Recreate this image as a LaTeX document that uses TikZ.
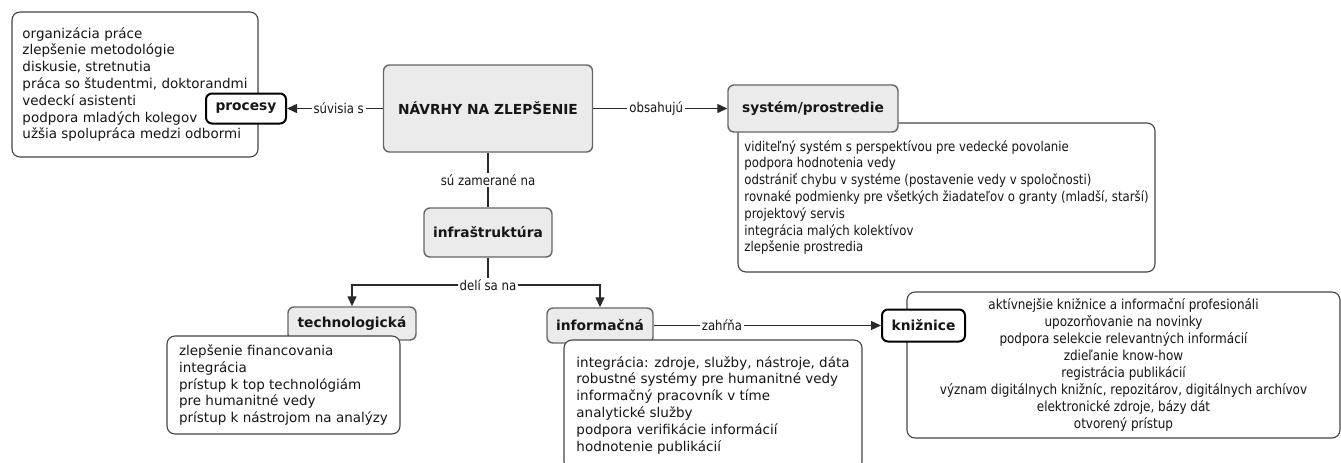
\documentclass[tikz,border=0pt]{standalone}
\usepackage{fontspec}
\setmainfont{DejaVu Sans}
\newfontfamily\narrowfont{DejaVu Sans}[FakeStretch=0.87]
\usetikzlibrary{arrows.meta}

\definecolor{conceptfill}{HTML}{EBEBEB}
\definecolor{conceptline}{HTML}{666666}
\definecolor{noteline}{HTML}{444444}
\definecolor{linkline}{HTML}{2A2A2A}
\definecolor{ink}{HTML}{161616}

\tikzset{
  concept/.style={draw=conceptline, fill=conceptfill, rounded corners=6pt,
    line width=1.4pt, inner sep=0pt, text=ink,
    font=\fontsize{13.8}{16}\selectfont\bfseries},
  keyconcept/.style={draw=black, fill=white, rounded corners=6pt,
    line width=2pt, inner sep=0pt, text=ink,
    font=\fontsize{13.8}{16}\selectfont\bfseries},
  notes/.style={draw=noteline, fill=white, rounded corners=8pt,
    line width=1.1pt, inner sep=0pt, align=left, text=ink,
    font=\fontsize{13.5}{16.8}\selectfont},
  narrownotes/.style={notes, font=\narrowfont\fontsize{13.5}{16.8}\selectfont},
  link/.style={draw=linkline, line width=1.3pt},
  arrow/.style={link, -{Triangle[length=10pt,width=9pt]}},
  linklabel/.style={fill=white, inner sep=2pt, text=ink,
    font=\narrowfont\fontsize{13.5}{16}\selectfont},
}

\begin{document}
\begin{tikzpicture}[x=1pt, y=-1pt]
\useasboundingbox (0,0) rectangle (1341,463);

% processes
\node[notes, minimum width=246pt, minimum height=145pt] (procnotes) at (135,84.5)
  {organizácia práce\\zlepšenie metodológie\\diskusie, stretnutia\\práca so študentmi, doktorandmi\\vedeckí asistenti\\podpora mladých kolegov\\užšia spolupráca medzi odbormi};
\node[keyconcept, minimum width=80pt, minimum height=30pt] (procesy) at (246,108.5) {procesy};

% central concept
\node[concept, minimum width=209pt, minimum height=87pt] (navrhy) at (488,108.5) {NÁVRHY NA ZLEPŠENIE};

% system / environment
\node[narrownotes, minimum width=417pt, minimum height=149pt] (sysnotes) at (946.5,197.5)
  {viditeľný systém s perspektívou pre vedecké povolanie\\podpora hodnotenia vedy\\odstrániť chybu v systéme (postavenie vedy v spoločnosti)\\rovnaké podmienky pre všetkých žiadateľov o granty (mladší, starší)\\projektový servis\\integrácia malých kolektívov\\zlepšenie prostredia};
\node[concept, minimum width=170pt, minimum height=47pt] (system) at (813,108.5) {systém/prostredie};

% infrastructure
\node[concept, minimum width=128pt, minimum height=49pt] (infra) at (488,232.5) {infraštruktúra};
\coordinate (split) at (488,285);

% technological branch
\node[concept, minimum width=128pt, minimum height=33pt] (tech) at (352,323.5) {technologická};
\node[notes, minimum width=233pt, minimum height=98pt] (technotes) at (283.5,385)
  {zlepšenie financovania\\integrácia\\prístup k top technológiám\\pre humanitné vedy\\prístup k nástrojom na analýzy};

% information branch
\node[concept, minimum width=106pt, minimum height=35pt] (info) at (600,325.5) {informačná};
\node[notes, minimum width=298pt, minimum height=130pt] (infonotes) at (713,405)
  {integrácia: zdroje, služby, nástroje, dáta\\robustné systémy pre humanitné vedy\\informačný pracovník v tíme\\analytické služby\\podpora verifikácie informácií\\hodnotenie publikácií};

% libraries
\node[narrownotes, align=center, minimum width=433pt, minimum height=146pt,
      font=\narrowfont\fontsize{13.8}{16.9}\selectfont] (libnotes) at (1123.5,365)
  {aktívnejšie knižnice a informační profesionáli\\upozorňovanie na novinky\\podpora selekcie relevantných informácií\\zdieľanie know-how\\registrácia publikácií\\význam digitálnych knižníc, repozitárov, digitálnych archívov\\elektronické zdroje, bázy dát\\otvorený prístup};
\node[keyconcept, minimum width=83pt, minimum height=32pt] (kniznice) at (923.5,325.5) {knižnice};

% connectors
\draw[arrow] (navrhy) -- node[linklabel, pos=0.46] {súvisia s} (procesy);
\draw[arrow] (navrhy) -- node[linklabel, pos=0.47] {obsahujú} (system);
\draw[link] (navrhy) -- node[linklabel] {sú zamerané na} (infra);
\draw[link] (infra) -- (split);
\draw[arrow] (split) -| (tech);
\draw[arrow] (split) -| (info);
\node[linklabel] (splitlabel) at (split) {delí sa na};
\draw[arrow] (info) -- node[linklabel, pos=0.3] {zahŕňa} (kniznice);
\end{tikzpicture}
\end{document}
